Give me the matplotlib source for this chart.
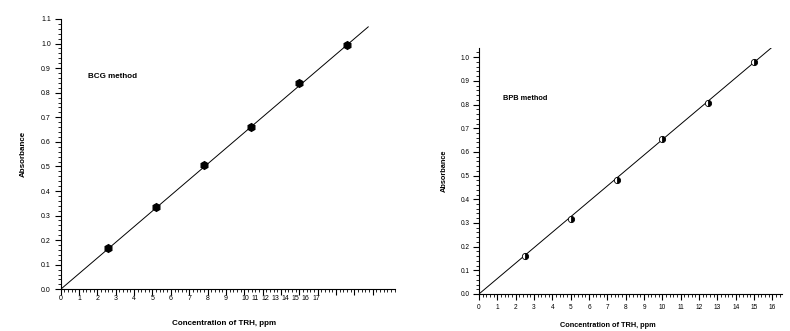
import matplotlib
matplotlib.use('Agg')
import matplotlib.pyplot as plt
from matplotlib.ticker import MultipleLocator
import numpy as np

plt.rcParams['font.family'] = ['Liberation Sans', 'DejaVu Sans']

# BCG method (left panel), x in axis units as drawn
bcg_conc = [2.60, 5.18, 7.78, 10.38, 12.98, 15.58]
bcg_abs = [0.170, 0.334, 0.507, 0.660, 0.841, 0.995]
bcg_fit = [(0.0, 0.0), (16.75, 1.068)]
bcg_xlabels = [str(i) for i in range(18)]
bcg_xlabel_pos = list(range(10)) + [10.05 + 0.55 * k for k in range(8)]
bcg_yticks = [round(0.1 * i, 1) for i in range(12)]

# BPB method (right panel)
bpb_conc = [2.5, 5.0, 7.5, 10.0, 12.5, 15.0]
bpb_abs = [0.162, 0.317, 0.480, 0.654, 0.808, 0.978]
bpb_fit = [(0.0, 0.0), (16.24, 1.059)]
bpb_xticks = list(range(17))
bpb_yticks = [round(0.1 * i, 1) for i in range(11)]

fig = plt.figure(figsize=(7.9, 3.31), dpi=100)
ax1 = fig.add_axes([0.0768, 0.126, 0.423, 0.8166])
ax2 = fig.add_axes([0.6063, 0.1118, 0.383, 0.7432])


def style_axes(ax, tick_fs):
    for s in ['top', 'right']:
        ax.spines[s].set_visible(False)
    for s in ['left', 'bottom']:
        ax.spines[s].set_linewidth(0.8)
    ax.tick_params(which='major', direction='out', length=4, width=0.8, labelsize=tick_fs, pad=3)
    ax.tick_params(which='minor', direction='out', length=2, width=0.6)
    ax.xaxis.set_minor_locator(MultipleLocator(0.2))
    ax.yaxis.set_minor_locator(MultipleLocator(0.02))


# left
style_axes(ax1, 5.0)
fx, fy = zip(*bcg_fit)
ax1.plot(fx, fy, color='black', lw=0.7)
ax1.plot(bcg_conc, bcg_abs, linestyle='none', marker='h', ms=5.5, color='black')
ax1.set_xlim(0, 18.2)
ax1.set_ylim(0, 1.1)
ax1.set_xticks(range(18))
ax1.set_xticklabels([])
for pos, lab in zip(bcg_xlabel_pos, bcg_xlabels):
    ax1.text(pos, -0.025, lab, fontsize=5.0, ha='center', va='top')
ax1.set_yticks(bcg_yticks)
ax1.set_yticklabels([f'{v:.1f}' for v in bcg_yticks])
ax1.set_xlabel('Concentration of TRH, ppm', fontsize=5.8, fontweight='bold', labelpad=15)
ax1.xaxis.label.set_x(0.489)
ax1.set_ylabel('Absorbance', fontsize=5.8, fontweight='bold', labelpad=10)
ax1.text(1.47, 0.865, 'BCG method', fontsize=5.8, fontweight='bold', va='center')

# right
style_axes(ax2, 4.7)
fx, fy = zip(*bpb_fit)
ax2.plot(fx, fy, color='black', lw=0.7)
ax2.plot(bpb_conc, bpb_abs, linestyle='none', marker='o', ms=4.5, color='black',
         fillstyle='right', markerfacecoloralt='white', markeredgewidth=0.6)
ax2.set_xlim(0, 16.5)
ax2.set_ylim(0, 1.039)
ax2.set_xticks(bpb_xticks)
ax2.set_yticks(bpb_yticks)
ax2.set_yticklabels([f'{v:.1f}' for v in bpb_yticks])
ax2.set_xlabel('Concentration of TRH, ppm', fontsize=5.3, fontweight='bold', labelpad=8)
ax2.xaxis.label.set_x(0.426)
ax2.set_ylabel('Absorbance', fontsize=5.3, fontweight='bold', labelpad=9)
ax2.text(1.3, 0.825, 'BPB method', fontsize=5.3, fontweight='bold', va='center')

fig.savefig('out.png', dpi=100)
